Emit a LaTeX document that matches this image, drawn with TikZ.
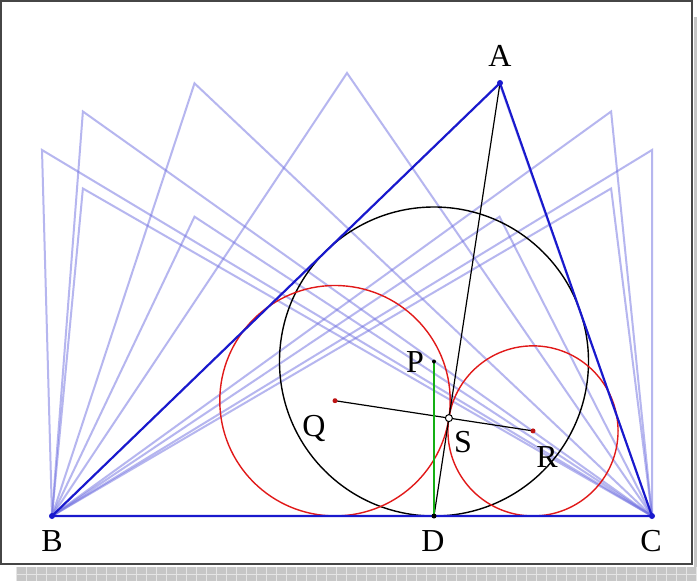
\documentclass[tikz,border=0pt]{standalone}
\usepackage{fontspec}
\setmainfont{Liberation Serif}
\definecolor{mblue}{RGB}{25,25,205}
\definecolor{ghostc}{RGB}{110,110,225}
\definecolor{cred}{RGB}{225,25,25}
\definecolor{dred}{RGB}{190,20,20}
\definecolor{cgreen}{RGB}{20,175,20}
\definecolor{framec}{RGB}{70,70,70}
\begin{document}
\begin{tikzpicture}[x=1pt,y=-1pt,
  ghost/.style={draw=ghostc, opacity=0.5, line width=2pt},
  mainside/.style={draw=mblue, line width=2.1pt},
  thinblack/.style={draw=black, line width=1.2pt},
  circ/.style={line width=1.4pt},
  lbl/.style={font=\fontsize{32}{36}\selectfont, inner sep=0pt},
  dot/.style={circle, inner sep=0pt, minimum size=#1},
]
\useasboundingbox (0,0) rectangle (697,581);
% frame and shadow
\fill[white] (1,1) rectangle (692,564);
\fill[gray!45] (16,567) rectangle (697,581);
\fill[gray!45] (694,17) rectangle (697,567);
\foreach \k in {0,...,68} \draw[gray!20, line width=0.7pt] ({16+10*\k},567) -- ({16+10*\k},581);
\draw[gray!20, line width=0.7pt] (16,574) -- (697,574);
\draw[framec, line width=1.5pt] (1,1) rectangle (692,564);
% points
\coordinate (B) at (52,516);
\coordinate (C) at (652,516);
\coordinate (A) at (500,83);
\coordinate (D) at (434,516);
\coordinate (P) at (434,361.5);
\coordinate (S) at (448.9,418.1);
\coordinate (Q) at (335.0,400.7);
\coordinate (R) at (533.0,430.9);
% ghost triangles
\foreach \i/\gx/\gy in {1/652/150, 2/611.1/111.5, 3/499.5/83.3, 4/347/73, 5/194.5/83.3, 6/82.9/111.5, 7/42/150, 8/82.9/188.5, 9/194.5/216.7, 10/499.5/216.7, 11/611.1/188.5}{
  \coordinate (g\i) at (\gx,\gy);
  \draw[ghost] (B) -- (g\i) -- (C);
}
% circles
\draw[black, circ] (P) circle[radius=154.5];
\draw[cred, circ] (Q) circle[radius=115.2];
\draw[cred, circ] (R) circle[radius=85.05];
% main triangle
\draw[mainside] (A) -- (B) -- (C) -- cycle;
% segments
\draw[thinblack] (A) -- (D);
\draw[thinblack] (Q) -- (R);
\draw[cgreen, line width=2pt] (P) -- (D);
% dots
\node[dot=6pt, fill=mblue] (nA) at (A) {};
\node[dot=6pt, fill=mblue] (nB) at (B) {};
\node[dot=6pt, fill=mblue] (nC) at (C) {};
\node[dot=5pt, fill=black] (nD) at (D) {};
\node[dot=4pt, fill=black] (nP) at (P) {};
\node[dot=5pt, fill=dred] (nQ) at (Q) {};
\node[dot=5pt, fill=dred] (nR) at (R) {};
\node[dot=7pt, fill=white, draw=black, line width=1pt] (nS) at (S) {};
% labels
\node[lbl] (lA) at (500,56) {A};
\node[lbl] (lB) at (52,541) {B};
\node[lbl] (lD) at (433,541) {D};
\node[lbl] (lC) at (651,541) {C};
\node[lbl] (lP) at (415,362) {P};
\node[lbl] (lQ) at (314,428) {Q};
\node[lbl] (lS) at (463,442) {S};
\node[lbl] (lR) at (547,457) {R};
\end{tikzpicture}
\end{document}
